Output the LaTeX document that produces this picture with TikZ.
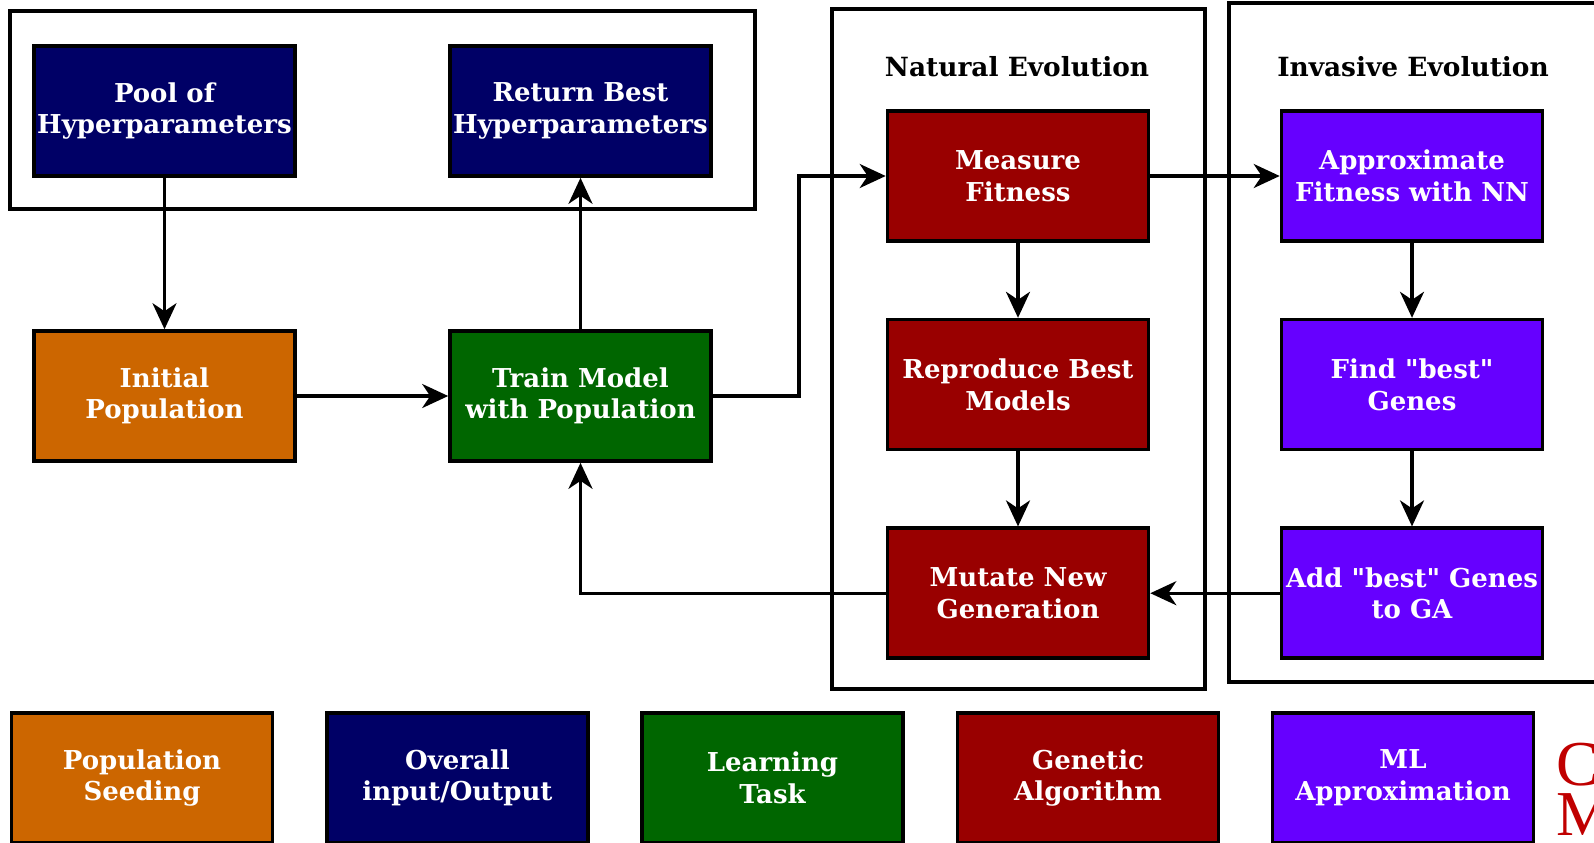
\documentclass[tikz,border=0pt]{standalone}
\usepackage{fontspec}
\setmainfont{DejaVu Serif}
\newfontfamily\logofont{Liberation Serif}
\usepackage{xcolor}
\definecolor{seedorange}{HTML}{CC6600}
\definecolor{ionavy}{HTML}{000066}
\definecolor{learngreen}{HTML}{006600}
\definecolor{gared}{HTML}{990000}
\definecolor{mlviolet}{HTML}{6600FF}
\definecolor{logored}{HTML}{C00000}
\usetikzlibrary{positioning, arrows.meta}

\begin{document}
\begin{tikzpicture}[x=0.5pt, y=-0.5pt]
    \tikzstyle{block} = [minimum width=130.5pt, minimum height=65pt, inner sep=1pt, draw=black, line width=1.8pt, text=white, align=center, font=\fontsize{13}{15.8}\selectfont\bfseries]
    \tikzstyle{seednode} = [block, fill=seedorange]
    \tikzstyle{ionode} = [block, fill=ionavy]
    \tikzstyle{learnnode} = [block, fill=learngreen]
    \tikzstyle{ganode} = [block, fill=gared]
    \tikzstyle{mlnode} = [block, fill=mlviolet]
    \tikzstyle{groupbox} = [draw=black, line width=1.8pt]
    \tikzstyle{grouptitle} = [font=\fontsize{13.2}{16}\selectfont\bfseries]
    \tikzstyle{arr} = [-{Stealth[length=13pt, width=12pt, inset=4pt]}, line width=1.7pt]

    \useasboundingbox (0,0) rectangle (1594,842);

    % group frames
    \draw [groupbox] (10,11) rectangle (755,209);
    \draw [groupbox] (832,9) rectangle (1205,689);
    \draw [groupbox] (1229,3) rectangle (1640,682);
    \node [grouptitle] (nattitle) at (1017,67) {Natural Evolution};
    \node [grouptitle] (invtitle) at (1413,67) {Invasive Evolution};

    % input / output and learning
    \node [ionode] (pool) at (164.5,111) {Pool of\\Hyperparameters};
    \node [ionode] (best) at (580.5,111) {Return Best\\Hyperparameters};
    \node [seednode] (init) at (164.5,396) {Initial\\Population};
    \node [learnnode] (train) at (580.5,396) {Train Model\\with Population};

    % genetic algorithm
    \node [ganode] (measure) at (1018,176) {Measure\\Fitness};
    \node [ganode, anchor=north] (repro) at ([yshift=-37.5pt]measure.south) {Reproduce Best\\Models};
    \node [ganode, anchor=north] (mutate) at ([yshift=-37.5pt]repro.south) {Mutate New\\Generation};

    % ml approximation
    \node [mlnode] (approx) at (1412,176) {Approximate\\Fitness with NN};
    \node [mlnode, anchor=north] (find) at ([yshift=-37.5pt]approx.south) {Find \textquotedbl best\textquotedbl\\Genes};
    \node [mlnode, anchor=north] (addga) at ([yshift=-37.5pt]find.south) {Add \textquotedbl best\textquotedbl\ Genes\\to GA};

    \draw [arr] (pool.south) -- (init.north);
    \draw [arr] (init.east) -- (train.west);
    \draw [arr] (train.north) -- (best.south);
    \draw [arr] (train.east) -- ++(86,0) |- (measure.west);
    \draw [arr] (measure.south) -- (repro.north);
    \draw [arr] (repro.south) -- (mutate.north);
    \draw [arr] (measure.east) -- (approx.west);
    \draw [arr] (approx.south) -- (find.north);
    \draw [arr] (find.south) -- (addga.north);
    \draw [arr] (addga.west) -- (mutate.east);
    \draw [arr] (mutate.west) -| (train.south);

    % legend
    \node [seednode] (legseed) at (142,778) {Population\\Seeding};
    \node [ionode] (legio) at (457.5,778) {Overall\\input/Output};
    \node [learnnode] (leglearn) at (772.5,778) {Learning\\Task};
    \node [ganode] (legga) at (1088,778) {Genetic\\Algorithm};
    \node [mlnode] (legml) at (1403,778) {ML\\Approximation};

    \node [anchor=north west, inner sep=0pt, text=logored, align=left, font=\logofont\fontsize{32}{25}\selectfont] (logo) at (1556,743) {C\\M};
\end{tikzpicture}
\end{document}
